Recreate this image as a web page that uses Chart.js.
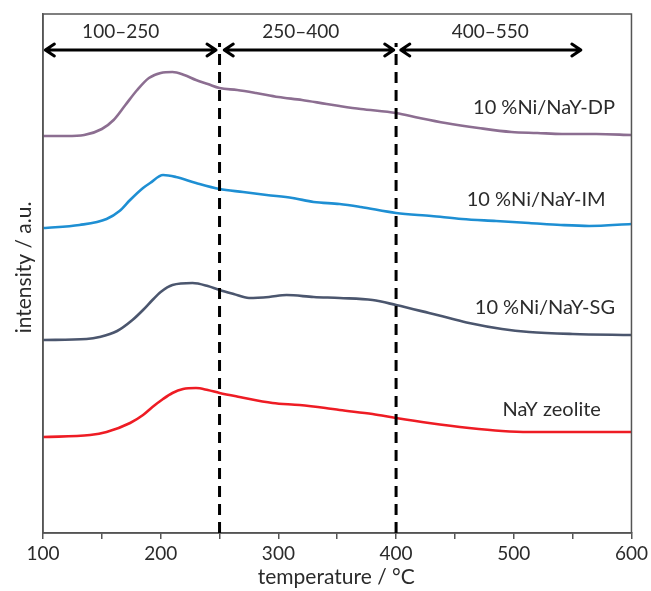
<!DOCTYPE html>
<html>
<head>
<meta charset="utf-8">
<script src="https://cdn.jsdelivr.net/npm/chart.js@4/dist/chart.umd.min.js"></script>
<style>
  html, body { margin: 0; padding: 0; background: #fff; }
  #wrap { width: 651px; height: 591px; position: relative; }
</style>
</head>
<body>
<div id="wrap"><canvas id="c" width="651" height="591"></canvas></div>
<script>
// ---- data ----
const tempDP = [100,120,135,150,160,170,180,190,200,210,220,230,240,250,265,281,300,320,341,352,370,400,420,442,470,498,520,541,570,600];
const intDP  = [397,397,398,404,413,428,443,455,460,461,458,453,449,445,443,440,436,433,429,427,424,420,415,410,405,401,400,399,399,398];

const tempIM = [100,131,154,165,174,185,191,202,213,230,250,270,290,312,330,352,370,400,430,456,485,513,540,564,600];
const intIM  = [305,308,314,322,333,345,350,358,356,350,344,341,338,335,331,329,326,320,317,314,312,310,308,307,309];

const tempSG = [100,137,148,163,176,185,193,200,210,227,240,250,262,275,292,307,330,352,380,400,428,445,462,490,513,550,600];
const intSG  = [193,194,196,202,213,223,233,241,248,250,247,243,239,235,236,238,236,235,233,228,220,215,210,204,201,199,198];

const tempNaY = [100,140,154,174,185,193,202,210,219,230,240,250,267,295,318,340,352,380,400,428,462,490,513,550,600];
const intNaY  = [96,98,101,110,118,126,134,140,144,145,143,140,136,130,128,125,123,119,115,110,105,102,101,101,101];

const seriesNames = ['10 %Ni/NaY-DP', '10 %Ni/NaY-IM', '10 %Ni/NaY-SG', 'NaY zeolite'];
const seriesColors = ['#8c6e91', '#1e8fd3', '#4b566e', '#ee1c24'];
const labelT = [586, 578, 586, 574];
const labelI = [425, 333, 225, 123];

const dividerTemps = [250, 400];
const rangeLabels = ['100–250', '250–400', '400–550'];
const rangeStart = [102, 254, 404];
const rangeEnd   = [247, 398, 557];
const rangeLabelT = [166, 319, 480];
const arrowLevel = 483;
const rangeLabelLevel = 501;
const dividerTop = 490;

const xMin = 100, xMax = 600, xStep = 50;
const yMin = 0, yMax = 519;

function pts(t, v) { return t.map((x, i) => ({ x: x, y: v[i] })); }

const FONT = 'Lato, "Open Sans", sans-serif';
const TEXT = '#2b2b2b';
const AXIS = '#555555';

const overlay = {
  id: 'overlay',
  afterDatasetsDraw(chart) {
    const ctx = chart.ctx;
    const xs = chart.scales.x, ys = chart.scales.y;
    const a = chart.chartArea;
    ctx.save();
    // frame
    ctx.strokeStyle = AXIS;
    ctx.lineWidth = 1.5;
    ctx.strokeRect(a.left, a.top, a.right - a.left, a.bottom - a.top);

    // dashed dividers
    ctx.strokeStyle = '#000';
    ctx.lineWidth = 3;
    ctx.setLineDash([11, 7]);
    dividerTemps.forEach(t => {
      const px = xs.getPixelForValue(t);
      ctx.beginPath();
      ctx.moveTo(px, a.bottom);
      ctx.lineTo(px, ys.getPixelForValue(dividerTop));
      ctx.stroke();
    });
    ctx.setLineDash([]);

    // double arrows
    const ay = ys.getPixelForValue(arrowLevel);
    ctx.lineWidth = 3;
    ctx.lineCap = 'round';
    ctx.lineJoin = 'round';
    for (let i = 0; i < rangeStart.length; i++) {
      const x1 = xs.getPixelForValue(rangeStart[i]);
      const x2 = xs.getPixelForValue(rangeEnd[i]);
      ctx.beginPath();
      ctx.moveTo(x1, ay); ctx.lineTo(x2, ay);
      ctx.moveTo(x1 + 9, ay - 6); ctx.lineTo(x1, ay); ctx.lineTo(x1 + 9, ay + 6);
      ctx.moveTo(x2 - 9, ay - 6); ctx.lineTo(x2, ay); ctx.lineTo(x2 - 9, ay + 6);
      ctx.stroke();
    }

    // range labels
    ctx.fillStyle = TEXT;
    ctx.font = '19px ' + FONT;
    ctx.textAlign = 'center';
    ctx.textBaseline = 'middle';
    for (let i = 0; i < rangeLabels.length; i++) {
      ctx.fillText(rangeLabels[i], xs.getPixelForValue(rangeLabelT[i]), ys.getPixelForValue(rangeLabelLevel));
    }

    // series labels
    ctx.font = '20px ' + FONT;
    ctx.textAlign = 'right';
    for (let i = 0; i < seriesNames.length; i++) {
      ctx.fillText(seriesNames[i], xs.getPixelForValue(labelT[i]), ys.getPixelForValue(labelI[i]));
    }

    // axis titles
    ctx.font = '21px ' + FONT;
    ctx.textAlign = 'center';
    ctx.fillText('temperature / °C', (a.left + a.right) / 2 - 1, 577);
    ctx.translate(24, (a.top + a.bottom) / 2 - 6);
    ctx.rotate(-Math.PI / 2);
    ctx.fillText('intensity / a.u.', 0, 0);
    ctx.restore();
  }
};

const ds = (label, t, v, color) => ({
  label: label,
  data: pts(t, v),
  borderColor: color,
  borderWidth: 2.6,
  pointRadius: 0,
  cubicInterpolationMode: 'monotone',
  fill: false
});

new Chart(document.getElementById('c'), {
  type: 'line',
  data: {
    datasets: [
      ds(seriesNames[0], tempDP, intDP, seriesColors[0]),
      ds(seriesNames[1], tempIM, intIM, seriesColors[1]),
      ds(seriesNames[2], tempSG, intSG, seriesColors[2]),
      ds(seriesNames[3], tempNaY, intNaY, seriesColors[3])
    ]
  },
  options: {
    responsive: false,
    animation: false,
    events: [],
    layout: { padding: { top: 14, right: 18, left: 0, bottom: 0 } },
    plugins: { legend: { display: false }, tooltip: { enabled: false } },
    scales: {
      x: {
        type: 'linear',
        min: xMin, max: xMax,
        afterFit(s) { s.height = 58; },
        border: { display: true, color: AXIS, width: 1.5 },
        grid: { drawOnChartArea: false, drawTicks: true, tickLength: 6, color: AXIS, lineWidth: 1.5 },
        ticks: {
          stepSize: xStep,
          autoSkip: false,
          maxRotation: 0,
          padding: 3,
          color: TEXT,
          font: { family: FONT, size: 19 },
          callback: v => (v % 100 === 0 ? String(v) : '')
        }
      },
      y: {
        type: 'linear',
        min: yMin, max: yMax,
        afterFit(s) { s.width = 43; },
        border: { display: true, color: AXIS, width: 1.5 },
        grid: { display: false },
        ticks: { display: false }
      }
    }
  },
  plugins: [overlay]
});
</script>
</body>
</html>
